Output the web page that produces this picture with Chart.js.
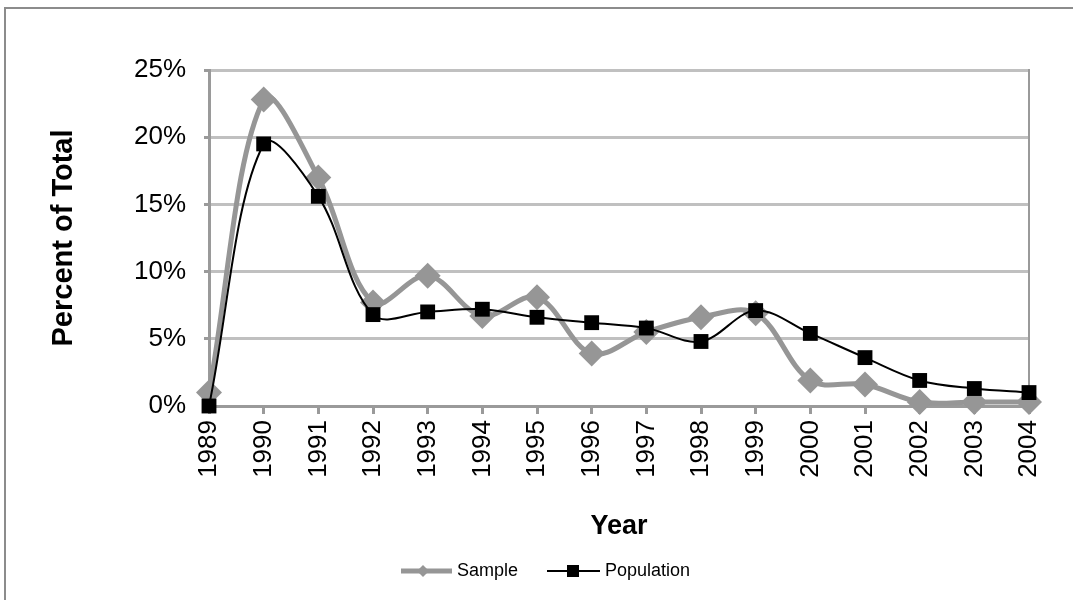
<!DOCTYPE html>
<html>
<head>
<meta charset="utf-8">
<script src="https://cdn.jsdelivr.net/npm/chart.js@4"></script>
<style>
  html, body { margin: 0; padding: 0; background: #fff; overflow: hidden; }
  #frame { position: absolute; left: 4px; top: 7px; width: 1100px; height: 620px; border: 2px solid #8c8c8c; box-sizing: border-box; }
  #wrap { position: absolute; left: 0; top: 0; width: 1073px; height: 600px; }
</style>
</head>
<body>
<div id="frame"></div>
<div id="wrap"><canvas id="c" width="1073" height="600"></canvas></div>
<script>
const years = ['1989','1990','1991','1992','1993','1994','1995','1996','1997','1998','1999','2000','2001','2002','2003','2004'];
const sampleValues = [1.0, 22.8, 17.0, 7.7, 9.7, 6.7, 8.1, 3.9, 5.5, 6.6, 6.9, 1.9, 1.6, 0.3, 0.3, 0.3];
const populationValues = [0.0, 19.5, 15.6, 6.8, 7.0, 7.2, 6.6, 6.2, 5.8, 4.8, 7.1, 5.4, 3.6, 1.9, 1.3, 1.0];
const yTicks = [0, 5, 10, 15, 20, 25];
const seriesNames = ['Sample', 'Population'];

const FONT = '"Liberation Sans", Arial, sans-serif';
const SAMPLE_COLOR = '#969696';

const extras = {
  id: 'extras',
  beforeDatasetsDraw(chart) {
    const {ctx, chartArea} = chart;
    ctx.save();
    ctx.strokeStyle = '#9a9a9a';
    ctx.lineWidth = 2;
    ctx.beginPath();
    ctx.moveTo(chartArea.right, chartArea.top - 1);
    ctx.lineTo(chartArea.right, chartArea.bottom);
    ctx.stroke();
    ctx.restore();
  },
  afterDraw(chart) {
    const {ctx} = chart;
    ctx.save();
    const y = 571;
    ctx.strokeStyle = SAMPLE_COLOR; ctx.lineWidth = 5;
    ctx.beginPath(); ctx.moveTo(401, y); ctx.lineTo(452, y); ctx.stroke();
    ctx.fillStyle = SAMPLE_COLOR;
    ctx.beginPath(); ctx.moveTo(423, y - 6); ctx.lineTo(429, y); ctx.lineTo(423, y + 6); ctx.lineTo(417, y); ctx.closePath(); ctx.fill();
    ctx.strokeStyle = '#000'; ctx.lineWidth = 2;
    ctx.beginPath(); ctx.moveTo(547, y); ctx.lineTo(600, y); ctx.stroke();
    ctx.fillStyle = '#000';
    ctx.fillRect(567, y - 6, 12, 12);
    ctx.font = '18px ' + FONT;
    ctx.textBaseline = 'middle';
    ctx.textAlign = 'left';
    ctx.fillStyle = '#000';
    ctx.fillText(seriesNames[0], 457, y);
    ctx.fillText(seriesNames[1], 605, y);
    ctx.restore();
  }
};

new Chart(document.getElementById('c'), {
  type: 'line',
  data: {
    labels: years,
    datasets: [
      {
        label: seriesNames[0],
        data: sampleValues,
        borderColor: SAMPLE_COLOR,
        backgroundColor: SAMPLE_COLOR,
        borderWidth: 5,
        pointStyle: 'rectRot',
        pointRadius: 13,
        pointBorderWidth: 0,
        pointBackgroundColor: SAMPLE_COLOR,
        tension: 0.35,
        clip: false,
        order: 1
      },
      {
        label: seriesNames[1],
        data: populationValues,
        borderColor: '#000',
        backgroundColor: '#000',
        borderWidth: 2,
        pointStyle: 'rect',
        pointRadius: 10.5,
        pointBorderWidth: 0,
        pointBackgroundColor: '#000',
        tension: 0.35,
        clip: false,
        order: 0
      }
    ]
  },
  options: {
    responsive: false,
    devicePixelRatio: 1,
    animation: false,
    events: [],
    layout: { padding: { top: 70, right: 44, bottom: 50, left: 0 } },
    plugins: { legend: { display: false }, tooltip: { enabled: false } },
    scales: {
      x: {
        offset: false,
        grid: { drawOnChartArea: false, drawTicks: true, tickLength: 8, tickWidth: 3, tickColor: '#9a9a9a' },
        border: { display: true, color: '#9a9a9a', width: 3 },
        ticks: { font: { family: FONT, size: 26 }, color: '#000', maxRotation: 90, minRotation: 90, padding: 6, autoSkip: false },
        title: { display: true, text: 'Year', font: { family: FONT, size: 27, weight: 'bold' }, color: '#000', padding: { top: 0, bottom: 7 } },
        afterFit(scale) { scale.height = 144; }
      },
      y: {
        min: 0, max: 25,
        afterBuildTicks(scale) { scale.ticks = yTicks.map(v => ({ value: v })); },
        grid: { color: '#c0c0c0', lineWidth: 3, drawTicks: true, tickLength: 5, tickWidth: 3, tickColor: '#9a9a9a' },
        border: { display: true, color: '#9a9a9a', width: 3 },
        ticks: { font: { family: FONT, size: 26 }, color: '#000', padding: 18, callback: v => v + '%' },
        title: { display: true, text: 'Percent of Total', font: { family: FONT, size: 29, weight: 'bold' }, color: '#000', padding: { top: 47, bottom: 0 } },
        afterFit(scale) { scale.width = 209; }
      }
    }
  },
  plugins: [extras]
});
</script>
</body>
</html>
